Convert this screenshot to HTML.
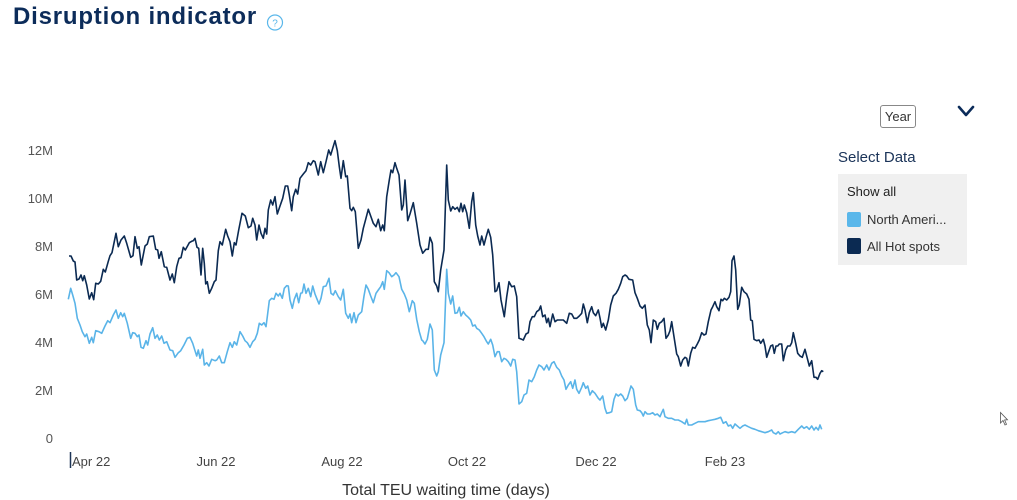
<!DOCTYPE html>
<html><head><meta charset="utf-8">
<style>
html,body{margin:0;padding:0;background:#fff;}
body{width:1017px;height:500px;position:relative;overflow:hidden;font-family:"Liberation Sans",sans-serif;}
.abs{position:absolute;white-space:nowrap;}
</style></head>
<body>
<div class="abs" style="left:13px;top:3px;font-size:24px;font-weight:bold;color:#0c2c5a;letter-spacing:0.8px;">Disruption indicator</div>
<svg class="abs" style="left:0;top:0" width="1017" height="500">
  <circle cx="275" cy="22.5" r="7.5" fill="none" stroke="#5ab7ea" stroke-width="1.2"/>
  <text x="275" y="26.5" font-size="10" fill="#5ab7ea" text-anchor="middle" font-family="Liberation Sans, sans-serif">?</text>
  <g font-family="Liberation Sans, sans-serif" font-size="13" fill="#555" text-anchor="end">
    <text x="53" y="155">12M</text>
    <text x="53" y="203">10M</text>
    <text x="53" y="251">8M</text>
    <text x="53" y="299">6M</text>
    <text x="53" y="347">4M</text>
    <text x="53" y="395">2M</text>
    <text x="53" y="443">0</text>
  </g>
  <line x1="70.5" y1="452" x2="70.5" y2="468" stroke="#1d3557" stroke-width="1.5"/>
  <g font-family="Liberation Sans, sans-serif" font-size="13" fill="#444" text-anchor="middle">
    <text x="72" y="466" text-anchor="start">Apr 22</text>
    <text x="216" y="466">Jun 22</text>
    <text x="342" y="466">Aug 22</text>
    <text x="467" y="466">Oct 22</text>
    <text x="596" y="466">Dec 22</text>
    <text x="725" y="466">Feb 23</text>
  </g>
  <text x="446" y="495" font-family="Liberation Sans, sans-serif" font-size="16" fill="#333" text-anchor="middle">Total TEU waiting time (days)</text>
  <polyline fill="none" stroke="#0b2a52" stroke-width="1.6" stroke-linejoin="round" points="69,256 71,256 73.3,261 75,262 76.7,280 79,279 81,275 82.7,280.7 84.3,275.7 86.7,285 89.3,299 91.7,292.7 93.7,299.7 95.7,283.3 98.3,284 100.7,281.3 103.3,269.3 105.3,272 108.3,261.3 110,255.7 112,252.7 116,233.3 118.3,246.7 121,240 124.3,236 126.7,243.3 130.7,257.3 133,255.7 135,236.7 137.3,248.3 139,246.7 141.3,265 145,246 147.3,244 149.3,236.7 153.3,236 155.7,249.3 157.7,250 159,258.3 161.3,251.7 164.3,266.7 166.7,267.3 170,280 172.3,274 174.3,282.7 176.7,266.7 179,258.3 181,257.7 183.3,247.3 185.3,250 189.3,242.7 191.7,241.3 193.3,240.7 195,238.3 197,247.3 198.7,248.3 201,275 202.7,248.3 204.3,263.3 205.7,284 207.3,281.7 209.3,293.3 211.7,288.3 214.3,281.7 216,280 218.3,250.7 220,241.7 222.3,245 225.7,229.3 227.7,236 230,241.7 232.3,256 234.3,242.7 236,245 238.7,230 242,213.3 245.3,216 248.3,227.7 251,226 252.7,218.3 255,225 256.7,240 259,225 261,233.3 263.3,238.3 265,228.3 266.7,234 268.3,210 270.7,200 272.7,205 275,196.7 277.3,214 280,206 282.7,198.3 285.3,186 287.7,186 289.3,195 291.7,210.7 293.3,196.7 295.7,189.3 297.7,194 300,178.3 303.3,174 306,170.7 308.3,162.7 310.7,165 313.3,160.7 315,161.7 318.3,175 320.7,161.7 323.3,172.7 326,161.7 328.7,150 330.7,155 335,140.7 337.3,150.7 339.3,166.7 341,178.3 343.3,160.7 345.7,176.7 347.3,176 350,208.3 351.7,210.7 353.3,207.3 355.3,211.7 358.3,248.3 361,240 363.3,228.3 365.7,219.3 368.3,209.3 370.7,216 373.3,223.3 376,226.7 378.3,219.3 380.7,230.7 382.7,225 384.3,230.7 386.7,196.7 389.3,180 391,170 392.7,172.7 395,162.7 396.7,168.3 399,175 401.7,210 403.3,205 405,180 407.7,220.7 410,214 413.3,202.7 416.7,223.3 420,245 422.7,253.3 426,249.3 428.3,249.3 430,237.3 432.3,243.3 434.3,281.7 436.7,286 438.3,291.7 440.7,270 444,250 446.7,165 448.3,200 450.7,211 452.7,206.7 455,209.3 457.3,207.3 459.3,211.7 461,203.3 462.7,211.7 464.3,205 466.7,212.7 469.3,228.3 471.7,201.7 473.3,192.7 475.7,225 477.7,236 480,245 481.7,236 484,245 486,237.3 488.3,229.3 490.7,237.3 492.7,255 495,291.7 496.7,290.7 499,282.7 501,300 504.3,316.7 506.7,296.7 509,281.7 511.7,286.7 514.3,286 516.7,296.7 519,338.3 521.7,339.3 523.3,340 526,334 528.3,332.7 530,321.7 532.3,316.7 534.3,316.7 536.7,311.7 539,310 540.7,306 542.7,316.7 545,315 546.7,322.7 548.3,318.3 550,326.7 552.7,314 555,321.7 557.3,320 560,320 563.3,320 566.7,323.3 569.3,313.3 571.7,314 574,318.3 576.7,318.3 579.3,316 581.7,313.3 583.3,304 585,310 587.3,322.7 589.3,312.7 591.7,306.7 593.3,312.7 595.7,315.7 598.3,310 600,318 601.7,327.3 603.3,323.3 605.7,330 608.3,320 610.7,305 613.3,296 616,293.3 618.3,289.3 620.7,283.3 622.7,276.7 625,275 626.7,276 629,279.3 632.7,280 635,292.7 637.3,298.3 640,306 642.3,308.3 645,305 647.3,325 649.3,330 651,342.7 653.3,320 655.7,321.7 657.3,329.3 659.3,323.3 661.7,321.7 664,318.3 666,338.3 668.3,335 670,330.7 671.7,321.7 674,336.7 676.7,354 678.3,356.7 680.7,366 682.7,360 685,357.3 686.7,358.3 688.3,366 690.7,353.3 692.7,347.3 695,348.3 697.3,344 699.3,340 701.7,332.7 704,335 706,334 708.3,321.7 711,310 712.7,306.7 715,301.7 716.7,306.7 719,310.7 721,299.3 722.7,300.7 724.3,298.3 726.7,300 729,297.3 730.7,291.7 732,260.7 734,256 735.7,270 737.7,309.3 739.3,305 741.7,287.3 744,291.7 746.7,294 749,299.3 750.7,320 752.3,320.7 754,339.3 756.7,340.7 759,340 760.7,343.3 763.3,339.3 765,346 766.7,357.3 768.3,352.7 770.7,346 772.7,345 774.3,353.3 776,346 777.7,346 779.3,344 781.7,344 783.3,360.7 785.7,350 787.7,346 790,346 791.7,342.7 793.3,332.7 795.7,343.3 797.7,353.3 800,356 802.3,357.3 805,349.3 807.3,358.3 809.3,366 811.7,360.7 814,377.3 816,377.3 817.7,379.3 820,373.3 821.7,370.7 823.3,371.7"/>
  <polyline fill="none" stroke="#5ab4e8" stroke-width="1.6" stroke-linejoin="round" points="68.3,299.3 70.7,288.3 72.7,295 75,303.3 77.3,318.3 80,325 82.3,331.7 85,336.7 86.7,334 89.3,343.3 91.7,337.3 93.3,342.7 95.7,330.7 99,331.7 101.7,333.3 105,326 107.7,320.7 110,322.7 113.3,315 116,310 118.3,318.3 120.7,312.7 122.7,316.7 124.3,313.3 127.3,323.3 130.7,338.3 132.7,332.7 135,333.3 137.3,336.7 139,335 141,347.3 143.3,348.3 146,340.7 147.7,345 150,334 152.7,327.7 155,338.3 157.3,335 159.3,340 161.7,336 164,343.3 166.7,341.7 170,350 172.7,350.7 175,357.3 178.3,352.7 180.7,350.7 184,345 187.3,338.3 190,337.3 192.7,343.3 195,350.7 196.7,356 198.3,350 200,358.3 202.7,349.3 204.3,365 206.7,362.7 209,366 211.7,359.3 215,360.7 216.7,360 219.3,356 221.7,362.7 224.3,362.7 227.3,351.7 230,342.7 232.3,347.3 234.3,341.7 236.7,345 240,331.7 242.7,336 245,340.7 247.3,342.7 250,347.3 252.7,341.7 255,339.3 257.3,333.3 259.3,323.3 261.7,325 264,322.7 266,326.7 267.3,316.7 269.3,300.7 271.7,298.3 274,299.3 276,293.3 278.3,296 280,293.3 282.3,298.3 284.3,288.3 286.7,285.7 288.3,286 290,300 292.3,308.3 294.3,299.3 296.7,293.3 298.7,302.7 300.7,293.3 302.3,292.7 304,284 306,293.3 308.3,288.3 310.7,296.7 312.7,286 315,294 316.7,298.3 319,304 321,298.3 323.3,286.7 326,286 329,278.3 331,293.3 333.3,295 335.3,290.7 338.3,296.7 340.7,300 343.3,289.3 345.7,313.3 348.3,318.3 350,314 351.7,322.7 354,312.7 356,322.7 358.3,315 361.7,311.7 364,296 366,285 368.3,289.3 370.7,296 373.3,302.7 376,293.3 378.3,290 380.7,286.7 382.7,281.7 384.3,289.3 386.7,270.7 389,272.7 391.7,276.7 394,275 396,272.7 399,276.7 401.7,289.3 404.3,294 406.7,300 409.3,311.7 412.3,300.7 414.3,303.3 416.7,319.3 419.3,331.7 421.7,340 422.7,340.7 425,344 427.3,339.3 430,324 432.3,330 434.3,370 436.7,376 438.3,371.7 440.7,355 444,342.7 446.7,269.3 448.3,293.3 450.7,304 452.7,296 455,313.3 457.3,312.7 459.3,307.3 461,316 463.3,311.7 465.7,315 468.3,317.3 470.7,320 472.7,326 475,325 476.7,328.3 479.3,330 481.7,333.3 484,336.7 486.7,341.7 488.3,344 490.7,339.3 492.7,345 495,356.7 497.3,351.7 499.3,351.7 501.7,361.7 504,358.3 506,359.3 508.3,361.7 510.7,366 512.7,359.3 515,360 516.7,371.7 519,404 521.7,401.7 524,395 526.7,393.3 529,380 531.7,381.7 534.3,376.7 536.7,370 539,365 541.7,366.7 544,370 546.7,365 549,370 551.7,363.3 554,361.7 556.7,367.3 559.3,370 561.7,376 564,380 566,389.3 568.3,385 570.7,381.7 572.7,388.3 575,380 576.7,389.3 579,393.3 581.7,387.3 583.3,382.7 585.7,388.3 587.7,386 590,395 592.3,390.7 595,393.3 598.3,398.3 600,400 602.7,396 605,408.3 606.7,413.3 609.3,412.7 611.7,411.7 614,399.3 616,394 618.3,396 620.7,394 622.7,396 625,400.7 627.3,398.3 629,392.7 631,386 633.3,389.3 635.7,405 637.3,410 640,410.7 641.7,412.7 643.3,416 645,411.7 647.3,414 650,414 652.7,412.7 655,415 657.3,414 660,416.7 661.7,412.7 663.3,409.3 665,416.7 668.3,418.3 671.7,418.3 675,420 678.3,420 681.7,421.7 685,424 686.7,419.3 688.3,425 691.7,425 695,423.3 698.3,421.7 701.7,421.7 705,421.7 708.3,420.7 711.7,420 715,419.3 718.3,418.3 720.7,417.3 723.3,423.3 726,421.7 728.3,426 730.7,425 732.7,428.3 735,424 737.3,426 740,428.3 742.7,426 745,425 748.3,426.7 751.7,428.3 755,429.3 758.3,430.7 761.7,431.7 765,432.7 768.3,431.7 771.7,430 773.3,432.7 776,434 778.3,431.7 780,434 782.7,432.7 785,431.7 788.3,432.7 791.7,431.7 795,432.7 798.3,429.3 801.7,426 804,428.3 806.7,426.7 809.3,429.3 811.7,426 814,430 816,427.3 818.3,430 820,425 821.7,429.3"/>
  <polyline points="959,107 966,115 973,107" fill="none" stroke="#0c2c5a" stroke-width="2.6" stroke-linecap="round" stroke-linejoin="round"/>
  <path d="M1000.5,412.5 L1000.5,423 L1003,420.5 L1005,425 L1006.5,424.3 L1004.6,420 L1007.5,419.8 Z" fill="#fff" stroke="#555" stroke-width="0.8"/>
</svg>
<div class="abs" style="left:880px;top:105px;width:34px;height:21px;border:1px solid #888;border-radius:3px;font-size:13px;color:#333;text-align:center;line-height:21px;">Year</div>
<div class="abs" style="left:838px;top:149px;font-size:15px;color:#1a3358;">Select Data</div>
<div class="abs" style="left:838px;top:174px;width:129px;height:91px;background:#f0f0f0;"></div>
<div class="abs" style="left:847px;top:184px;font-size:13px;color:#222;">Show all</div>
<div class="abs" style="left:847px;top:212px;width:14px;height:15px;background:#5ab7ea;border-radius:2px;"></div>
<div class="abs" style="left:867px;top:212px;font-size:13px;color:#333;">North Ameri...</div>
<div class="abs" style="left:847px;top:238px;width:14px;height:16px;background:#0b2a52;border-radius:2px;"></div>
<div class="abs" style="left:867px;top:239px;font-size:13px;color:#333;">All Hot spots</div>
</body></html>
